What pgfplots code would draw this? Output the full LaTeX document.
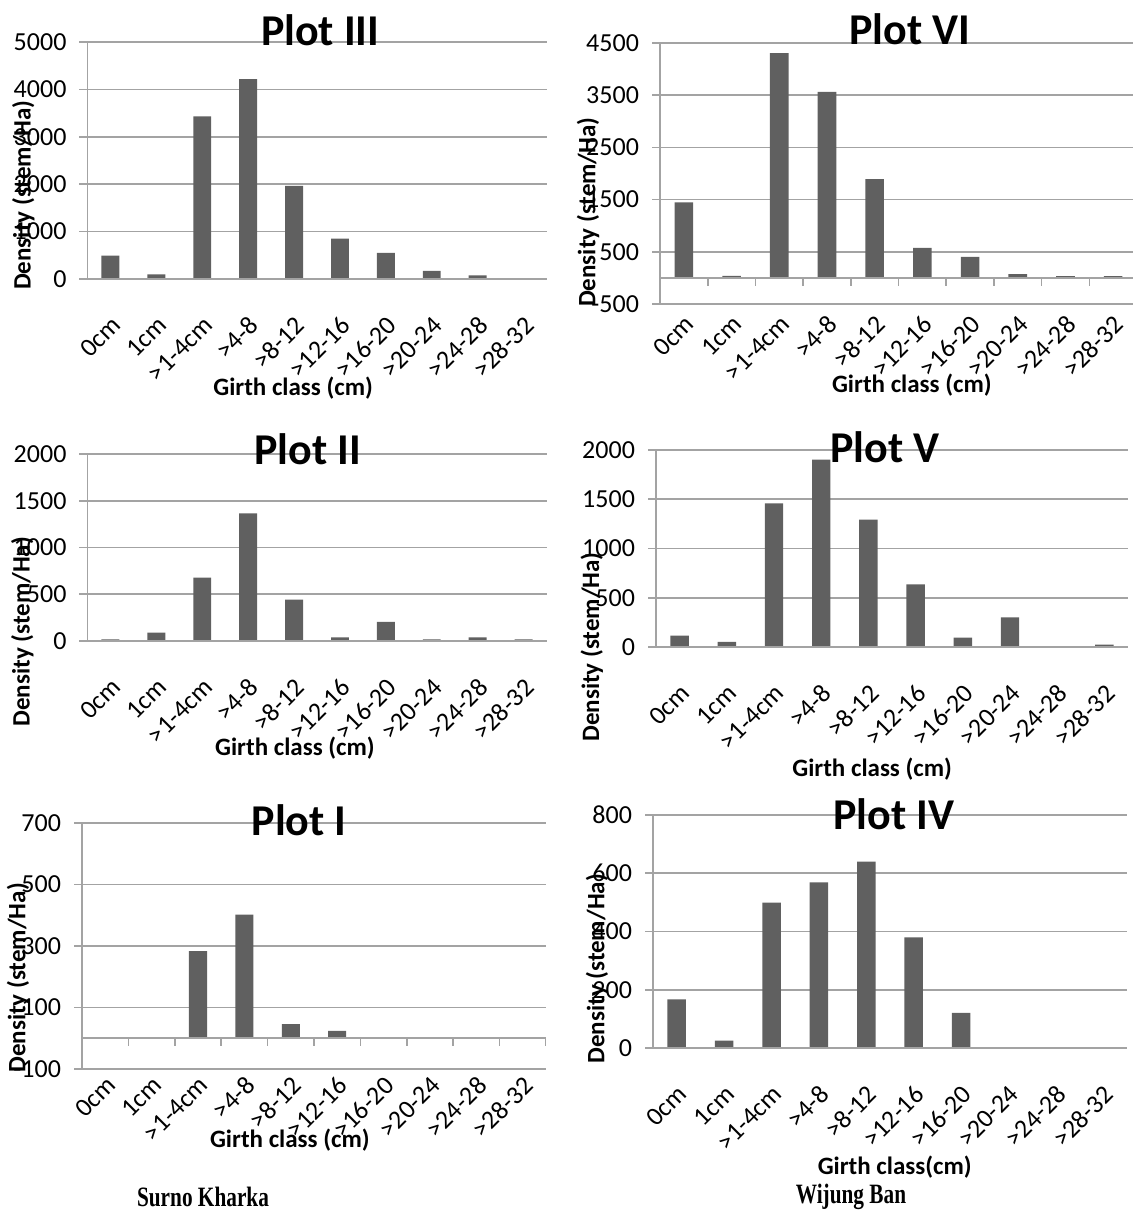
\documentclass[border=0pt]{standalone}
\usepackage{fontspec}
\setmainfont{Carlito}
\newfontfamily\capfont{Liberation Serif}
\usepackage{pgfplots}
\pgfplotsset{compat=1.18}

\definecolor{bargray}{HTML}{606060}
\definecolor{axgray}{HTML}{A3A3A3}

\pgfplotsset{
  girth/.style={
    scale only axis, anchor=south west,
    ybar, bar width=0.39, bar shift=0pt,
    xmin=-0.5, xmax=9.5,
    xtick={0,...,9},
    xticklabels={0cm,1cm,>1-4cm,>4-8,>8-12,>12-16,>16-20,>20-24,>24-28,>28-32},
    separate axis lines,
    axis x line*=bottom, axis y line*=left,
    x axis line style={draw=none},
    y axis line style={draw=axgray, line width=0.8pt, -},
    ymajorgrids, grid style={draw=axgray, line width=0.8pt},
    xtick style={draw=none},
    ytick style={draw=axgray, line width=0.8pt},
    tick align=outside, major tick length=4pt,
    ytick pos=left,
    y tick label style={font=\fontsize{13}{13}\selectfont, xshift=-3pt},
    /pgf/number format/assume math mode=true,
    /pgf/number format/1000 sep={},
    title style={font=\bfseries\fontsize{22}{22}\selectfont, anchor=center, inner sep=0pt, yshift=-5.5pt},
    xlabel style={font=\bfseries\fontsize{12.5}{12.5}\selectfont, anchor=center, inner sep=0pt},
    ylabel style={font=\bfseries\fontsize{12.5}{12.5}\selectfont, anchor=center, inner sep=0pt},
    xlabel={Girth class (cm)},
    ylabel={Density (stem/Ha)},
  },
  % rotated category names, pushed down by #1 from the bottom edge
  catlabels/.style={
    x tick label style={font=\fontsize{13}{13}\selectfont, inner sep=0pt,
      yshift=#1, xshift=3pt, rotate=45, anchor=east},
  },
  bars/.style={fill=bargray, draw=none},
}

% x axis line at zero with separators between the categories
\newcommand{\zeroaxis}{%
  \draw[axgray, line width=0.8pt] (axis cs:-0.5,0) -- (axis cs:9.5,0);
  \pgfplotsinvokeforeach{-0.5,0.5,...,9.5}{%
    \draw[axgray, line width=0.8pt] (axis cs:##1,0) -- ([yshift=-4pt]axis cs:##1,0);}%
}

\begin{document}
\begin{tikzpicture}
\path[use as bounding box] (0,0) rectangle (566pt,609.5pt);

% ---------------- Surno Kharka ----------------
% Plot III
\begin{axis}[girth, catlabels=-17pt,
  at={(43.75pt,470pt)}, width=229.5pt, height=118.5pt,
  ymin=0, ymax=5000, ytick={0,1000,...,5000},
  title={Plot III}, title style={at={(axis description cs:0.507,1.045)}},
  xlabel style={at={(axis description cs:0.448,-0.46)}},
  ylabel style={at={(axis description cs:-0.14,0.354)}}]
\addplot[bars] coordinates {(0,495) (1,99) (2,3430) (3,4215) (4,1966) (5,849) (6,552) (7,170) (8,78) (9,0)};
\zeroaxis
\end{axis}

% Plot II
\begin{axis}[girth, catlabels=-17pt,
  at={(43.75pt,289pt)}, width=229.5pt, height=93.5pt,
  ymin=0, ymax=2000, ytick={0,500,...,2000},
  title={Plot II}, title style={at={(axis description cs:0.48,1.02)}},
  xlabel style={at={(axis description cs:0.452,-0.572)}},
  ylabel style={at={(axis description cs:-0.142,0.05)}}]
\addplot[bars] coordinates {(0,18) (1,89) (2,679) (3,1364) (4,443) (5,39) (6,204) (7,18) (8,39) (9,18)};
\zeroaxis
\end{axis}

% Plot I
\begin{axis}[girth, catlabels=-2pt,
  at={(41pt,75pt)}, width=232pt, height=123pt,
  ymin=-100, ymax=700, ytick={-100,100,...,700},
  title={Plot I}, title style={at={(axis description cs:0.468,1.008)}},
  xlabel style={at={(axis description cs:0.448,-0.29)}},
  ylabel style={at={(axis description cs:-0.138,0.37)}}]
\addplot[bars] coordinates {(0,0) (1,0) (2,283) (3,402) (4,46) (5,24) (6,0) (7,0) (8,0) (9,0)};
\zeroaxis
\end{axis}

% ---------------- Wijung Ban ----------------
% Plot VI
\begin{axis}[girth, catlabels=-4pt,
  at={(330pt,457.5pt)}, width=238.5pt, height=130.5pt,
  ymin=-500, ymax=4500, ytick={-500,500,...,4500},
  title={Plot VI}, title style={at={(axis description cs:0.524,1.05)}},
  xlabel style={at={(axis description cs:0.528,-0.31)}},
  ylabel style={at={(axis description cs:-0.151,0.352)}}]
\addplot[bars] coordinates {(0,1449) (1,38) (2,4308) (3,3564) (4,1891) (5,577) (6,404) (7,70) (8,32) (9,32)};
\zeroaxis
\end{axis}

% Plot V
\begin{axis}[girth, catlabels=-17pt,
  at={(328pt,286pt)}, width=236pt, height=98.5pt,
  ymin=0, ymax=2000, ytick={0,500,...,2000},
  title={Plot V}, title style={at={(axis description cs:0.485,1.01)}},
  xlabel style={at={(axis description cs:0.458,-0.62)}},
  ylabel style={at={(axis description cs:-0.136,0.0)}}]
\addplot[bars] coordinates {(0,115) (1,51) (2,1459) (3,1902) (4,1294) (5,635) (6,95) (7,301) (8,0) (9,24)};
\zeroaxis
\end{axis}

% Plot IV
\begin{axis}[girth, catlabels=-17pt,
  at={(326.5pt,85.5pt)}, width=237pt, height=116.5pt,
  ymin=0, ymax=800, ytick={0,200,...,800},
  title={Plot IV}, title style={at={(axis description cs:0.508,1.0)}},
  xlabel={Girth class(cm)},
  xlabel style={at={(axis description cs:0.51,-0.51)}},
  ylabel style={at={(axis description cs:-0.118,0.34)}}]
\addplot[bars] coordinates {(0,167) (1,25) (2,499) (3,569) (4,640) (5,380) (6,121) (7,0) (8,0) (9,0)};
\zeroaxis
\end{axis}

% site names
\node[transform shape, xscale=0.76, font=\capfont\bfseries\fontsize{14}{16}\selectfont] at (101.5pt,11pt) {Surno Kharka};
\node[transform shape, xscale=0.76, font=\capfont\bfseries\fontsize{14}{16}\selectfont] at (425.5pt,11pt) {Wijung Ban};
\end{tikzpicture}
\end{document}
